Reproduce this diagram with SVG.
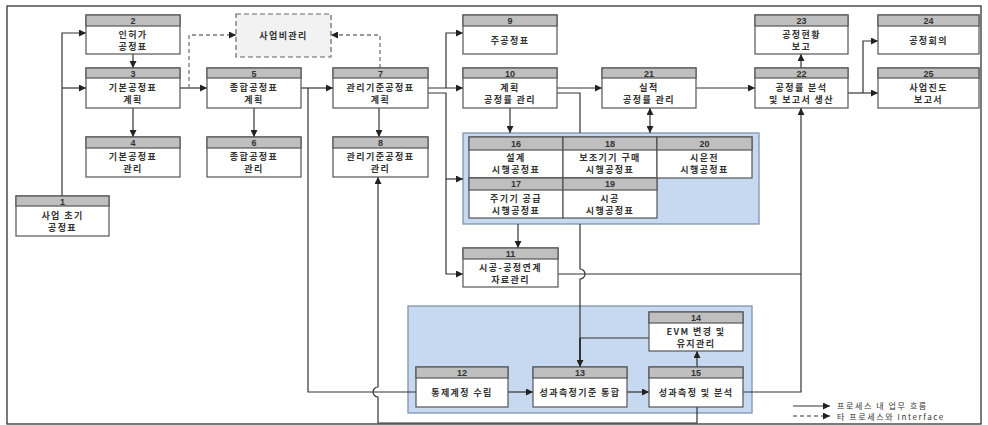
<svg xmlns="http://www.w3.org/2000/svg" width="988" height="425" viewBox="0 0 988 425">
<style>
.frame{fill:#fff;stroke:#333;stroke-width:1.3}
.grp{fill:#c6d9f1;stroke:#7f95b0;stroke-width:1.3}
.box{fill:#fff;stroke:#555;stroke-width:1.2}
.hdr{fill:#bfbfbf;stroke:#555;stroke-width:1.2}
.num{font-family:"Liberation Sans",Arial,sans-serif;font-size:9px;font-weight:bold;fill:#333;text-anchor:middle}
.lbl{font-family:"Noto Sans CJK KR","Noto Sans",sans-serif;font-size:9px;font-weight:bold;fill:#333;text-anchor:middle;letter-spacing:1.4px}
.leg{font-family:"Noto Sans CJK KR","Noto Sans",sans-serif;font-size:8px;fill:#333;letter-spacing:1.6px}
.ln{fill:none;stroke:#333;stroke-width:1.2}
.dash{fill:none;stroke:#777;stroke-width:1.3;stroke-dasharray:4 3}
.thick{stroke-width:2}
.dbox{fill:#f2f2f2;stroke:#666;stroke-width:1.2;stroke-dasharray:5 3}
</style>
<defs>
<marker id="ah" viewBox="0 0 8 8" refX="8" refY="4" markerWidth="7" markerHeight="7" markerUnits="userSpaceOnUse" orient="auto">
<path d="M0,0 L8,4 L0,8 z" fill="#222"/>
</marker>
<marker id="as" viewBox="0 0 8 8" refX="0" refY="4" markerWidth="7" markerHeight="7" markerUnits="userSpaceOnUse" orient="auto">
<path d="M8,0 L0,4 L8,8 z" fill="#222"/>
</marker>
</defs>
<rect class="frame" x="7" y="6" width="974" height="418"/>

<g id="group-a"><rect class="grp" x="463" y="133" width="296" height="91"/></g>
<g id="group-b"><rect class="grp" x="408" y="306" width="344" height="107"/></g>

<g id="connectors">
<path class="ln" d="M62,196 V33 H86" marker-end="url(#ah)"/>
<path class="ln" d="M62,88 H86" marker-end="url(#ah)"/>
<path class="ln" d="M133,54 V68" marker-end="url(#ah)"/>
<path class="ln" d="M133,108 V137" marker-end="url(#ah)"/>
<path class="ln" d="M180,88 H207" marker-end="url(#ah)"/>
<path class="ln" d="M254,108 V137" marker-end="url(#ah)"/>
<path class="ln" d="M301,88 H333" marker-end="url(#ah)"/>
<path class="ln" d="M308,88 V392 H416"/>
<path class="ln" d="M379,108 V137" marker-end="url(#ah)"/>
<path class="ln" d="M428,88 H463" marker-end="url(#ah)"/>
<path class="ln" d="M446,88 V33 H463" marker-end="url(#ah)"/>
<path class="ln" d="M428,93 H446 V274 H463" marker-end="url(#ah)"/>
<path class="ln" d="M446,179 H463" marker-end="url(#ah)"/>
<path class="ln" d="M557,88 H602" marker-end="url(#ah)"/>
<path class="ln" d="M557,93 H580 V133"/>
<path class="ln" d="M580,224 V269 A5,5 0 0 1 580,279 V338"/>
<path class="ln thick" d="M580,338 V367" marker-end="url(#ah)"/>
<path class="ln" d="M649,338 H580"/>
<path class="ln" d="M510,108 V133" marker-end="url(#ah)"/>
<path class="ln" d="M650,108 V133" marker-start="url(#as)" marker-end="url(#ah)"/>
<path class="ln" d="M696,88 H755" marker-end="url(#ah)"/>
<path class="ln" d="M801,68 V54" marker-end="url(#ah)"/>
<path class="ln" d="M848,93 H878" marker-end="url(#ah)"/>
<path class="ln" d="M863,93 V41 H878" marker-end="url(#ah)"/>
<path class="ln" d="M558,274 H801"/>
<path class="ln" d="M743,392 H801 V108" marker-end="url(#ah)"/>
<path class="ln" d="M697,407 V423 H378 V397 A5,5 0 0 1 378,387 V177" marker-end="url(#ah)"/>
<path class="ln" d="M518,224 V248" marker-end="url(#ah)"/>
<path class="ln" d="M697,367 V351" marker-end="url(#ah)"/>
<path class="ln" d="M508,392 H533" marker-end="url(#ah)"/>
<path class="ln" d="M627,392 H649" marker-end="url(#ah)"/>
<path class="dash" d="M189,88 V35 H236" marker-end="url(#ah)"/>
<path class="dash" d="M380,68 V35 H331" marker-end="url(#ah)"/>
</g>

<g id="cost">
<rect class="dbox" x="236" y="14" width="95" height="43"/>
<text class="lbl" x="283.5" y="39">사업비관리</text>
</g>

<g id="n1"><rect class="box" x="16" y="196" width="93" height="40"/><rect class="hdr" x="16" y="196" width="93" height="10"/><text class="num" x="62.5" y="204.5">1</text><text class="lbl" x="62.5" y="218.5">사업 초기<tspan x="62.5" dy="12">공정표</tspan></text></g>
<g id="n2"><rect class="box" x="86" y="15" width="94" height="39"/><rect class="hdr" x="86" y="15" width="94" height="11"/><text class="num" x="133" y="24">2</text><text class="lbl" x="133" y="38">인허가<tspan x="133" dy="12">공정표</tspan></text></g>
<g id="n3"><rect class="box" x="86" y="68" width="94" height="40"/><rect class="hdr" x="86" y="68" width="94" height="10"/><text class="num" x="133" y="76.5">3</text><text class="lbl" x="133" y="90.5">기본공정표<tspan x="133" dy="12">계획</tspan></text></g>
<g id="n4"><rect class="box" x="86" y="137" width="94" height="40"/><rect class="hdr" x="86" y="137" width="94" height="11"/><text class="num" x="133" y="146">4</text><text class="lbl" x="133" y="160">기본공정표<tspan x="133" dy="12">관리</tspan></text></g>
<g id="n5"><rect class="box" x="207" y="68" width="94" height="40"/><rect class="hdr" x="207" y="68" width="94" height="10"/><text class="num" x="254" y="76.5">5</text><text class="lbl" x="254" y="90.5">종합공정표<tspan x="254" dy="12">계획</tspan></text></g>
<g id="n6"><rect class="box" x="207" y="137" width="94" height="40"/><rect class="hdr" x="207" y="137" width="94" height="11"/><text class="num" x="254" y="146">6</text><text class="lbl" x="254" y="160">종합공정표<tspan x="254" dy="12">관리</tspan></text></g>
<g id="n7"><rect class="box" x="333" y="68" width="95" height="40"/><rect class="hdr" x="333" y="68" width="95" height="10"/><text class="num" x="380.5" y="76.5">7</text><text class="lbl" x="380.5" y="90.5">관리기준공정표<tspan x="380.5" dy="12">계획</tspan></text></g>
<g id="n8"><rect class="box" x="333" y="137" width="95" height="40"/><rect class="hdr" x="333" y="137" width="95" height="11"/><text class="num" x="380.5" y="146">8</text><text class="lbl" x="380.5" y="160">관리기준공정표<tspan x="380.5" dy="12">관리</tspan></text></g>
<g id="n9"><rect class="box" x="463" y="15" width="94" height="39"/><rect class="hdr" x="463" y="15" width="94" height="11"/><text class="num" x="510" y="24">9</text><text class="lbl" x="510" y="44">주공정표</text></g>
<g id="n10"><rect class="box" x="463" y="68" width="94" height="40"/><rect class="hdr" x="463" y="68" width="94" height="10"/><text class="num" x="510" y="76.5">10</text><text class="lbl" x="510" y="90.5">계획<tspan x="510" dy="12">공정률 관리</tspan></text></g>
<g id="n11"><rect class="box" x="463" y="248" width="95" height="39"/><rect class="hdr" x="463" y="248" width="95" height="11"/><text class="num" x="510.5" y="257">11</text><text class="lbl" x="510.5" y="270.5">시공-공정연계<tspan x="510.5" dy="12">자료관리</tspan></text></g>
<g id="n16"><rect class="box" x="469" y="137" width="94" height="41"/><rect class="hdr" x="469" y="137" width="94" height="13"/><text class="num" x="516" y="146.5">16</text><text class="lbl" x="516" y="161">설계<tspan x="516" dy="12">시행공정표</tspan></text></g>
<g id="n17"><rect class="box" x="469" y="178" width="94" height="40"/><rect class="hdr" x="469" y="178" width="94" height="12"/><text class="num" x="516" y="187">17</text><text class="lbl" x="516" y="201.5">주기기 공급<tspan x="516" dy="12">시행공정표</tspan></text></g>
<g id="n18"><rect class="box" x="563" y="137" width="94" height="41"/><rect class="hdr" x="563" y="137" width="94" height="13"/><text class="num" x="610" y="146.5">18</text><text class="lbl" x="610" y="161">보조기기 구매<tspan x="610" dy="12">시행공정표</tspan></text></g>
<g id="n19"><rect class="box" x="563" y="178" width="94" height="40"/><rect class="hdr" x="563" y="178" width="94" height="12"/><text class="num" x="610" y="187">19</text><text class="lbl" x="610" y="201.5">시공<tspan x="610" dy="12">시행공정표</tspan></text></g>
<g id="n20"><rect class="box" x="657" y="137" width="95" height="41"/><rect class="hdr" x="657" y="137" width="95" height="13"/><text class="num" x="704.5" y="146.5">20</text><text class="lbl" x="704.5" y="161">시운전<tspan x="704.5" dy="12">시행공정표</tspan></text></g>
<g id="n21"><rect class="box" x="602" y="68" width="94" height="40"/><rect class="hdr" x="602" y="68" width="94" height="10"/><text class="num" x="649" y="76.5">21</text><text class="lbl" x="649" y="90.5">실적<tspan x="649" dy="12">공정률 관리</tspan></text></g>
<g id="n22"><rect class="box" x="755" y="68" width="93" height="40"/><rect class="hdr" x="755" y="68" width="93" height="10"/><text class="num" x="801.5" y="76.5">22</text><text class="lbl" x="801.5" y="90.5">공정률 분석<tspan x="801.5" dy="12">및 보고서 생산</tspan></text></g>
<g id="n23"><rect class="box" x="755" y="15" width="93" height="39"/><rect class="hdr" x="755" y="15" width="93" height="11"/><text class="num" x="801.5" y="24">23</text><text class="lbl" x="801.5" y="38">공정현황<tspan x="801.5" dy="12">보고</tspan></text></g>
<g id="n24"><rect class="box" x="878" y="15" width="101" height="39"/><rect class="hdr" x="878" y="15" width="101" height="11"/><text class="num" x="928.5" y="24">24</text><text class="lbl" x="928.5" y="44">공정회의</text></g>
<g id="n25"><rect class="box" x="878" y="68" width="101" height="40"/><rect class="hdr" x="878" y="68" width="101" height="10"/><text class="num" x="928.5" y="76.5">25</text><text class="lbl" x="928.5" y="90.5">사업진도<tspan x="928.5" dy="12">보고서</tspan></text></g>
<g id="n12"><rect class="box" x="416" y="367" width="92" height="40"/><rect class="hdr" x="416" y="367" width="92" height="11"/><text class="num" x="462" y="376">12</text><text class="lbl" x="462" y="396">통제계정 수립</text></g>
<g id="n13"><rect class="box" x="533" y="367" width="94" height="40"/><rect class="hdr" x="533" y="367" width="94" height="11"/><text class="num" x="580" y="376">13</text><text class="lbl" x="580" y="396" letter-spacing="0.6">성과측정기준 통합</text></g>
<g id="n14"><rect class="box" x="649" y="312" width="94" height="39"/><rect class="hdr" x="649" y="312" width="94" height="11"/><text class="num" x="696" y="321">14</text><text class="lbl" x="696" y="334.5">EVM 변경 및<tspan x="696" dy="12">유지관리</tspan></text></g>
<g id="n15"><rect class="box" x="649" y="367" width="94" height="40"/><rect class="hdr" x="649" y="367" width="94" height="11"/><text class="num" x="696" y="376">15</text><text class="lbl" x="696" y="396">성과측정 및 분석</text></g>

<g id="legend">
<path class="ln" d="M793,406 H830" marker-end="url(#ah)"/>
<path class="dash" d="M793,416 H830" marker-end="url(#ah)"/>
<text class="leg" x="837" y="409">프로세스 내 업무 흐름<tspan x="837" dy="10.5">타 프로세스와 Interface</tspan></text>
</g>
</svg>
